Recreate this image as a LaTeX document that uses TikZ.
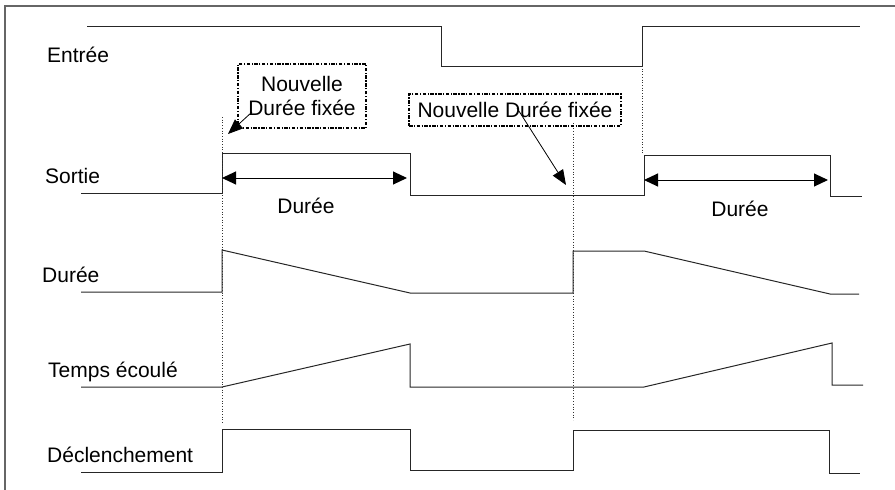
\documentclass[tikz,border=0pt]{standalone}
\usepackage{fontspec}
\setmainfont{Liberation Sans}
\usetikzlibrary{arrows.meta,calc}
\begin{document}
\begin{tikzpicture}[x=1pt,y=-1pt,
 sig/.style={line width=1pt, draw=black!85, line join=miter},
 guide/.style={line width=0.7pt, dotted, draw=black!80},
 dimarrow/.style={line width=1pt, {Triangle[length=14pt,width=13pt]}-{Triangle[length=14pt,width=13pt]}},
 callout/.style={line width=0.8pt, -{Triangle[length=15pt,width=12pt]}},
 note/.style={draw, line width=1.8pt, dash pattern=on 3.5pt off 1.5pt on 1.2pt off 1.5pt, align=center, inner sep=0pt, font=\fontsize{21}{24}\selectfont},
 lbl/.style={font=\fontsize{21}{24}\selectfont, inner sep=0pt}]
\useasboundingbox (0,0) rectangle (895,490);
\draw[line width=1.2pt, black!60] (5,6) rectangle (900,495);

% labels
\node[lbl, anchor=base west] (lin) at (47,62) {Entrée};
\node[lbl, anchor=base west] (lout) at (45,183) {Sortie};
\node[lbl, anchor=base west] (ldur) at (42,282) {Durée};
\node[lbl, anchor=base west] (ltmp) at (48,377) {Temps écoulé};
\node[lbl, anchor=base west] (ltrg) at (47,462) {Déclenchement};

% signals
\draw[sig] (87,26) -- (441,26) -- (441,66) -- (642,66) -- (642,26) -- (860,26);
\draw[sig] (81,193) -- (222,193) -- (222,153) -- (410,153) -- (410,195) -- (644,195) -- (644,155) -- (830,155) -- (830,196) -- (862,196);
\draw[sig] (81,292) -- (222,292) -- (222,250) -- (410,293) -- (573,293) -- (573,251) -- (644,251) -- (830,294) -- (859,294);
\draw[sig] (81,387) -- (222,387) -- (410,344) -- (410,387) -- (644,387) -- (832,343) -- (832,385) -- (863,385);
\draw[sig] (81,472) -- (222,472) -- (222,429) -- (410,429) -- (410,470) -- (573,470) -- (573,430) -- (829,430) -- (829,473) -- (860,473);

% guides
\coordinate (g1a) at (222,117); \coordinate (g1b) at (222,423);
\coordinate (g2a) at (573,123); \coordinate (g2b) at (573,420);
\coordinate (g3a) at (642,66);  \coordinate (g3b) at (642,155);
\draw[guide] (g1a) -- (g1b);
\draw[guide] (g2a) -- (g2b);
\draw[guide] (g3a) -- (g3b);

% durations
\coordinate (d1a) at (222,178); \coordinate (d1b) at (407,178);
\coordinate (d2a) at (644,180); \coordinate (d2b) at (828,180);
\draw[dimarrow] (d1a) -- (d1b);
\draw[dimarrow] (d2a) -- (d2b);
\node[lbl, anchor=base] (dl1) at (306,213) {Durée};
\node[lbl, anchor=base] (dl2) at (740,216) {Durée};

% callouts
\node[note, minimum width=128pt, minimum height=64pt] (n1) at (302,96) {Nouvelle\\Durée fixée};
\node[note, minimum width=212pt, minimum height=32pt] (n2) at (515,110) {Nouvelle Durée fixée};
\coordinate (c1s) at (252,112); \coordinate (c1e) at (228,134);
\coordinate (c2s) at (517,108); \coordinate (c2e) at (566,185);
\draw[callout] (c1s) -- (c1e);
\draw[callout] (c2s) -- (c2e);
\end{tikzpicture}
\end{document}
